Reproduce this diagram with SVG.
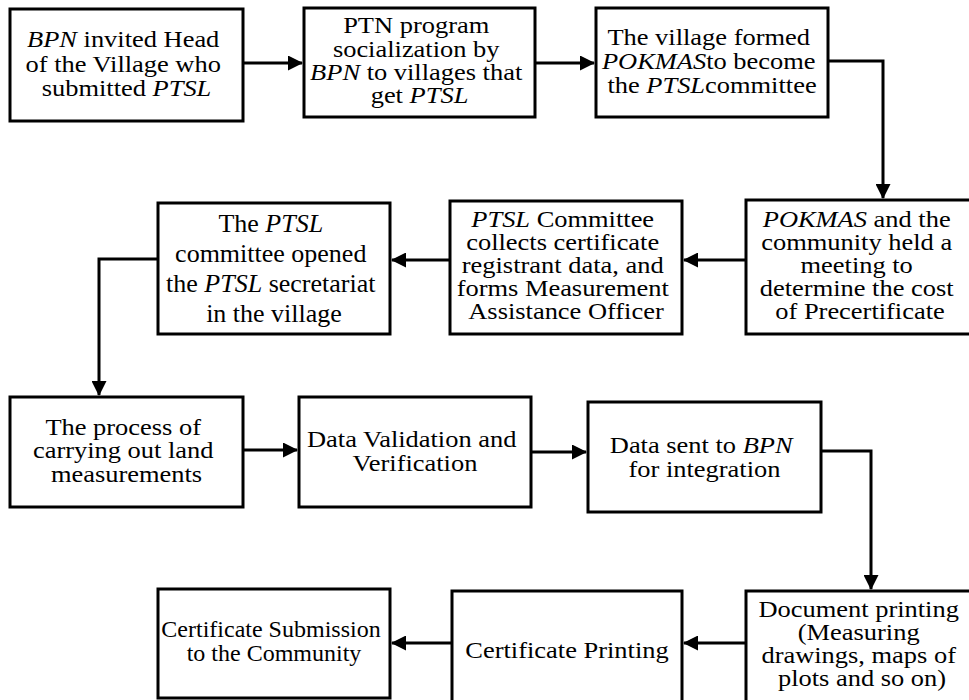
<svg xmlns="http://www.w3.org/2000/svg" width="969" height="700" viewBox="0 0 969 700">
<style>
  .box rect { fill: #fff; stroke: #000; stroke-width: 3; }
  .box text { font-family: "Liberation Serif", "Times New Roman", serif; font-size: 23px; text-anchor: middle; fill: #000; }
  .box text.big { font-size: 26px; }
  .box text.mid { font-size: 24px; }
  .it { font-style: italic; }
  .conn path { fill: none; stroke: #000; stroke-width: 3; marker-end: url(#ah); }
</style>
<defs>
  <marker id="ah" markerUnits="userSpaceOnUse" markerWidth="15" markerHeight="15" refX="14" refY="7.5" orient="auto">
    <path d="M0,0 L15,7.5 L0,15 z" fill="#000"/>
  </marker>
</defs>
<rect width="969" height="700" fill="#fff"/>

<g id="n1" class="box">
  <rect x="10" y="9" width="233" height="112"/>
  <text transform="translate(126.5 0) scale(1.15 1)">
    <tspan x="0" y="47"><tspan class="it">BPN</tspan> invited Head</tspan>
    <tspan x="0" y="72">of the Village who</tspan>
    <tspan x="0" y="96">submitted <tspan class="it">PTSL</tspan></tspan>
  </text>
</g>
<g id="n2" class="box">
  <rect x="304" y="8" width="231" height="109"/>
  <text transform="translate(419.5 0) scale(1.15 1)">
    <tspan x="0" y="33">PTN program</tspan>
    <tspan x="0" y="57">socialization by</tspan>
    <tspan x="0" y="80"><tspan class="it">BPN</tspan> to villages that</tspan>
    <tspan x="0" y="103">get <tspan class="it">PTSL</tspan></tspan>
  </text>
</g>
<g id="n3" class="box">
  <rect x="596" y="8" width="232" height="109"/>
  <text transform="translate(712 0) scale(1.15 1)">
    <tspan x="0" y="45">The village formed</tspan>
    <tspan x="0" y="69"><tspan class="it">POKMAS</tspan>to become</tspan>
    <tspan x="0" y="93">the <tspan class="it">PTSL</tspan>committee</tspan>
  </text>
</g>
<g id="n4" class="box">
  <rect x="746" y="200" width="228" height="134"/>
  <text transform="translate(860 0) scale(1.15 1)">
    <tspan x="0" y="227"><tspan class="it">POKMAS</tspan> and the</tspan>
    <tspan x="0" y="250">community held a</tspan>
    <tspan x="0" y="273">meeting to</tspan>
    <tspan x="0" y="296">determine the cost</tspan>
    <tspan x="0" y="319">of Precertificate</tspan>
  </text>
</g>
<g id="n5" class="box">
  <rect x="450" y="201" width="232" height="133"/>
  <text transform="translate(566 0) scale(1.15 1)">
    <tspan x="0" y="227"><tspan class="it">PTSL</tspan> Committee</tspan>
    <tspan x="0" y="250">collects certificate</tspan>
    <tspan x="0" y="273">registrant data, and</tspan>
    <tspan x="0" y="296">forms Measurement</tspan>
    <tspan x="0" y="319">Assistance Officer</tspan>
  </text>
</g>
<g id="n6" class="box">
  <rect x="158" y="203" width="232" height="131"/>
  <text class="big" transform="translate(274 0)">
    <tspan x="0" y="232">The <tspan class="it">PTSL</tspan></tspan>
    <tspan x="0" y="262">committee opened</tspan>
    <tspan x="0" y="292">the <tspan class="it">PTSL</tspan> secretariat</tspan>
    <tspan x="0" y="322">in the village</tspan>
  </text>
</g>
<g id="n7" class="box">
  <rect x="10" y="397" width="233" height="110"/>
  <text transform="translate(126.5 0) scale(1.15 1)">
    <tspan x="0" y="435">The process of</tspan>
    <tspan x="0" y="458">carrying out land</tspan>
    <tspan x="0" y="482">measurements</tspan>
  </text>
</g>
<g id="n8" class="box">
  <rect x="299" y="397" width="232" height="110"/>
  <text transform="translate(415 0) scale(1.15 1)">
    <tspan x="0" y="447">Data Validation and</tspan>
    <tspan x="0" y="471">Verification</tspan>
  </text>
</g>
<g id="n9" class="box">
  <rect x="588" y="402" width="233" height="110"/>
  <text transform="translate(704.5 0) scale(1.15 1)">
    <tspan x="0" y="453">Data sent to <tspan class="it">BPN</tspan></tspan>
    <tspan x="0" y="477">for integration</tspan>
  </text>
</g>
<g id="n10" class="box">
  <rect x="746" y="591" width="232" height="112"/>
  <text transform="translate(862 0) scale(1.15 1)">
    <tspan x="0" y="617">Document printing</tspan>
    <tspan x="0" y="640">(Measuring</tspan>
    <tspan x="0" y="663">drawings, maps of</tspan>
    <tspan x="0" y="686">plots and so on)</tspan>
  </text>
</g>
<g id="n11" class="box">
  <rect x="452" y="591" width="230" height="112"/>
  <text transform="translate(567 0) scale(1.15 1)">
    <tspan x="0" y="658">Certificate Printing</tspan>
  </text>
</g>
<g id="n12" class="box">
  <rect x="158" y="589" width="232" height="109"/>
  <text class="mid" transform="translate(274 0)">
    <tspan x="0" y="637">Certificate Submission</tspan>
    <tspan x="0" y="661">to the Community</tspan>
  </text>
</g>

<g id="connectors" class="conn">
  <path d="M243,63 H302"/>
  <path d="M535,63 H594"/>
  <path d="M828,61 H883 V198"/>
  <path d="M746,260 H684"/>
  <path d="M450,260 H392"/>
  <path d="M158,259 H99 V395"/>
  <path d="M243,450 H297"/>
  <path d="M531,452 H586"/>
  <path d="M821,451 H871 V589"/>
  <path d="M746,643 H684"/>
  <path d="M452,643 H392"/>
</g>
</svg>
